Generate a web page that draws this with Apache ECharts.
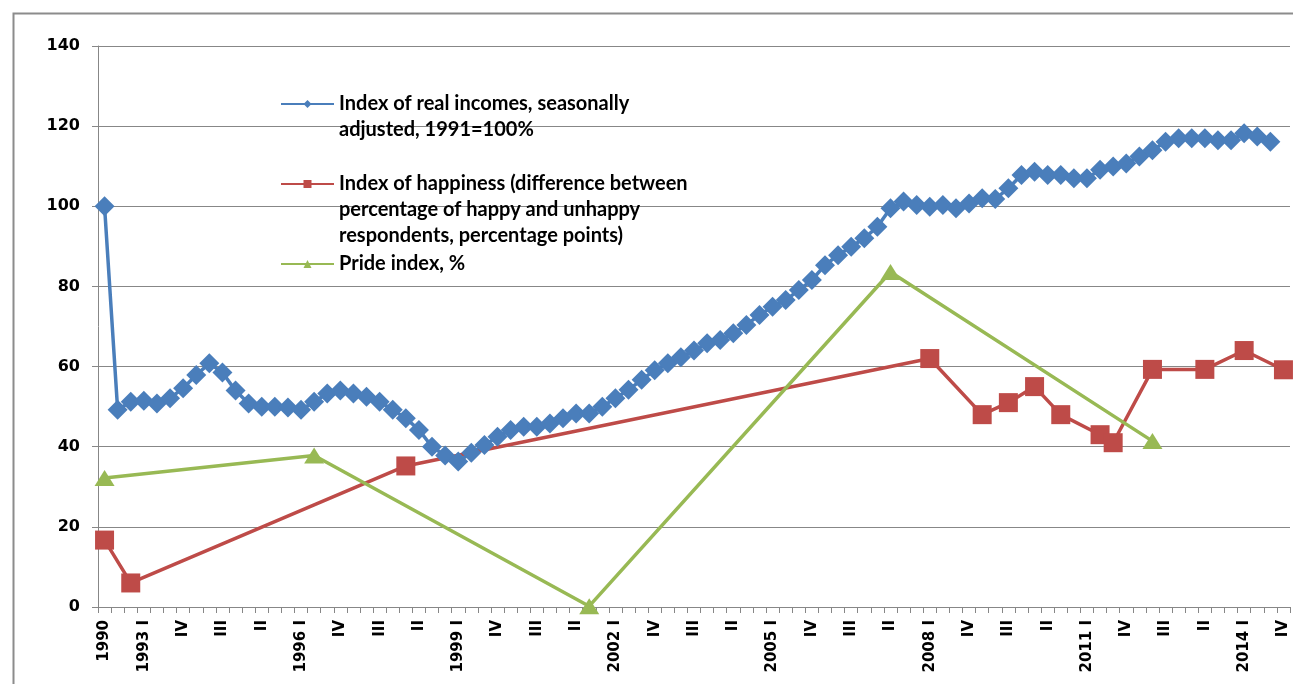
<!DOCTYPE html>
<html>
<head>
<meta charset="utf-8">
<script src="https://cdn.jsdelivr.net/npm/echarts@6/dist/echarts.min.js"></script>
<style>
html,body{margin:0;padding:0;background:#fff;}
#chart{width:1293px;height:684px;}
</style>
</head>
<body>
<div id="chart"></div>
<script>
// Categories: annual 1990-1992, then quarterly 1993 I .. 2014 IV
const years = ["1990", "1991", "1992"];
const quarterYears = [1993,1994,1995,1996,1997,1998,1999,2000,2001,2002,2003,2004,2005,2006,2007,2008,2009,2010,2011,2012,2013,2014];
const quarters = ["I", "II", "III", "IV"];
const categories = years.slice();
quarterYears.forEach(function (y) { quarters.forEach(function (q) { categories.push(y + " " + q); }); });

const seriesNames = [
  "Index of real incomes, seasonally adjusted, 1991=100%",
  "Index of happiness (difference between percentage of happy and unhappy respondents, percentage points)",
  "Pride index, %"
];
const legendLines = [
  ["Index of real incomes, seasonally", "adjusted, 1991=100%"],
  ["Index of happiness (difference between", "percentage of happy and unhappy", "respondents, percentage points)"],
  ["Pride index, %"]
];

const incomeIndex = [
  100, 49.2, 51.2, 51.5, 50.8, 52.1, 54.6, 57.9, 60.8, 58.5,
  54, 50.8, 50, 50, 49.8, 49.2, 51.2, 53.3, 54, 53.3,
  52.5, 51.2, 49.2, 47.1, 44.2, 40, 37.8, 36.3, 38.5, 40.4,
  42.5, 44.2, 45, 45, 45.8, 47.1, 48.3, 48.3, 50, 52.1,
  54.2, 56.7, 59.1, 60.8, 62.3, 64, 65.8, 66.6, 68.3, 70.4,
  72.9, 74.9, 76.6, 79.1, 81.6, 85.3, 87.8, 89.9, 92, 94.9,
  99.5, 101.2, 100.3, 99.9, 100.3, 99.5, 100.7, 102, 101.8, 104.5,
  107.8, 108.6, 107.8, 107.8, 107, 107, 109.1, 109.9, 110.7, 112.4,
  114, 116.1, 117, 117, 117, 116.5, 116.5, 118.2, 117.4, 116.1,
  null
];
// Happiness index: [category, value]
const happinessIndex = [
  ["1990", 16.7], ["1992", 6], ["1998 I", 35.2], ["2008 I", 62], ["2009 I", 48],
  ["2009 III", 51], ["2010 I", 55], ["2010 III", 48], ["2011 II", 43], ["2011 III", 41],
  ["2012 II", 59.3], ["2013 II", 59.3], ["2014 I", 64], ["2014 IV", 59.2]
];
const prideIndex = [
  ["1990", 32.2], ["1996 II", 37.8], ["2001 III", 0.2], ["2007 II", 83.6], ["2012 II", 41.4]
];

function toSeries(pairs) {
  const arr = categories.map(function () { return null; });
  pairs.forEach(function (p) { arr[categories.indexOf(p[0])] = p[1]; });
  return arr;
}

const BLUE = "#4A7EBB", RED = "#BE4B48", GREEN = "#98B954";
const AXIS = "#878787";

const chart = echarts.init(document.getElementById("chart"), null, {renderer: "canvas"});

function legendFor(i, top, pad) {
  const lines = [];
  for (let k = 0; k < pad; k++) lines.push("");
  legendLines[i].forEach(function (l) { lines.push(l); });
  return {
    data: [seriesNames[i]],
    left: 280, top: top, padding: 0,
    orient: "vertical",
    itemWidth: 53, itemHeight: 10,
    selectedMode: false,
    formatter: function () { return lines.join("\n"); },
    textStyle: {fontFamily: "Lato", fontSize: 20, fontWeight: "bold", color: "#000", lineHeight: 26}
  };
}

chart.setOption({
  animation: false,
  backgroundColor: "#fff",
  graphic: [{
    type: "rect", left: 11, top: 11, silent: true,
    shape: {x: 0, y: 0, width: 1300, height: 700},
    style: {fill: null, stroke: "#8c8c8c", lineWidth: 2}
  }],
  grid: {left: 98, right: 3, top: 46, bottom: 77, containLabel: false},
  legend: [
    legendFor(0, 104 - 26 * 1.5, 1),
    legendFor(1, 184 - 26 * 2.5, 2),
    legendFor(2, 264 - 13, 0)
  ],
  xAxis: {
    type: "category",
    data: categories,
    boundaryGap: true,
    axisLine: {lineStyle: {color: AXIS, width: 1}},
    axisTick: {show: true, interval: 0, length: 6, lineStyle: {color: AXIS}},
    axisLabel: {
      interval: 2, rotate: 90, margin: 13,
      fontFamily: "DejaVu Sans", fontWeight: "bold", fontSize: 15, color: "#000",
      formatter: function (v) {
        const parts = v.split(" ");
        if (parts.length === 1) return v;
        return parts[1] === "I" ? v : parts[1];
      }
    },
    splitLine: {show: false}
  },
  yAxis: {
    type: "value", min: 0, max: 140, interval: 20,
    axisLine: {show: true, lineStyle: {color: AXIS}},
    axisTick: {show: true, length: 6, lineStyle: {color: AXIS}},
    axisLabel: {fontFamily: "DejaVu Sans", fontWeight: "bold", fontSize: 16, color: "#000", margin: 18},
    splitLine: {show: true, lineStyle: {color: AXIS, width: 1}}
  },
  series: [
    {
      name: seriesNames[0], type: "line", data: incomeIndex,
      symbol: "diamond", symbolSize: 20, showAllSymbol: true,
      itemStyle: {color: BLUE}, lineStyle: {color: BLUE, width: 3.5}
    },
    {
      name: seriesNames[1], type: "line", data: toSeries(happinessIndex), connectNulls: true,
      symbol: "rect", symbolSize: 19, showAllSymbol: true,
      itemStyle: {color: RED}, lineStyle: {color: RED, width: 3.5}
    },
    {
      name: seriesNames[2], type: "line", data: toSeries(prideIndex), connectNulls: true,
      symbol: "triangle", symbolSize: [20, 16], showAllSymbol: true,
      itemStyle: {color: GREEN}, lineStyle: {color: GREEN, width: 3.5}
    }
  ]
});
</script>
</body>
</html>
